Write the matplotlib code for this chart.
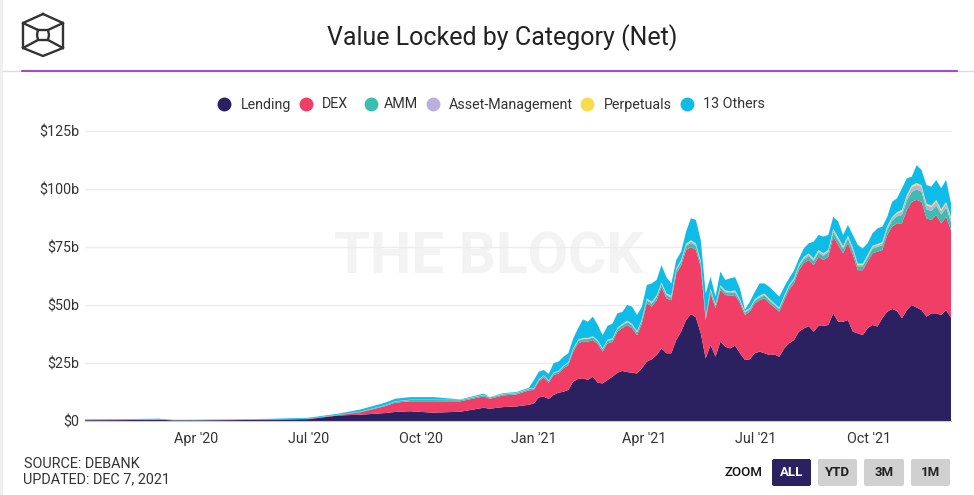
import numpy as np
import pandas as pd
import matplotlib
matplotlib.use("Agg")
import matplotlib.pyplot as plt
import matplotlib.dates as mdates
from matplotlib.patches import FancyBboxPatch, Rectangle

plt.rcParams['font.family'] = ['Roboto', 'DejaVu Sans']

# values, $ billions
dates_2020 = [
    '2020-01-01', '2020-02-01', '2020-03-01', '2020-03-13', '2020-04-01', '2020-05-01', '2020-06-01', '2020-07-01',
    '2020-07-26', '2020-08-12', '2020-09-01', '2020-09-10', '2020-09-22', '2020-10-11', '2020-11-02', '2020-11-21',
    '2020-11-26', '2020-12-07', '2020-12-18', '2020-12-28',
]
# 2021 was read every 4 days, Jan 1 to Dec 7
dates_2021 = pd.date_range('2021-01-01', periods=86, freq='4D')

# top edges of the lending, dex and whole stack, as read
lending_top = [
    .35, .4, .55, .3, .3, .4, .6, .8, 2.4, 2.7, 3.4, 3.9, 4.2, 3.6, 4, 5.7, 5.3, 6, 6.3, 7,
    7.6, 10.2, 10.5, 9.5, 11.2, 12.2, 12.6, 13.4, 17, 18.1,
    18.4, 17.7, 19.1, 16.5, 16.2, 17.7, 19.1, 20.8, 21.6, 21.1,
    20.8, 20.5, 22.7, 25.6, 26.6, 28.4, 31.3, 29.2, 29.2, 34.9,
    38.5, 43.5, 46.1, 44.7, 37.8, 27, 32.8, 27.7, 34.2, 32,
    31.3, 32.5, 29.2, 26.3, 26.6, 29.2, 29.9, 29.2, 28.4, 28.7,
    27.7, 31.3, 33.5, 34.9, 38.5, 39.9, 40.9, 38.5, 41, 41,
    41.4, 46.4, 42.8, 42.8, 43.5, 38.5, 37.8, 37, 40, 41.4,
    40.7, 44.3, 47.1, 48.3, 47.4, 44.3, 47.8, 50, 48.9, 47.8,
    45, 46.4, 46.4, 45.7, 47.8, 44.5,
]
dex_top = [
    .4, .45, .6, .33, .33, .45, .65, .9, 2.6, 3.7, 6.3, 7.9, 8.5, 8.5, 8.5, 10.6, 9.6, 11, 11.5, 13.2,
    13.4, 17, 18.8, 16.5, 19.8, 20.5, 22.7, 24.1, 29.9, 33.5,
    34.2, 34.2, 34.9, 33.2, 29.9, 33.5, 34, 38.5, 40, 41.4,
    40, 37, 42, 50.7, 49.3, 52, 57.6, 52.9, 52, 63.5,
    67, 73.7, 75, 73.7, 66.5, 43.5, 55, 48.6, 56.5, 54.3,
    53.9, 54.3, 50.7, 45.7, 47.1, 50.7, 52, 52.9, 50.7, 49,
    47.1, 52, 56.5, 59.3, 65, 68, 69.4, 67.2, 70.8, 69.4,
    70.8, 79.5, 75.9, 72.3, 76.6, 71.6, 65, 65, 68.7, 72.3,
    73, 73.7, 80.2, 83.8, 85.2, 85.2, 91, 94.5, 95.3, 94.5,
    87.4, 86.6, 88.8, 85.2, 88, 82.3,
]
total_top = [
    .7, .8, 1, .5, .55, .7, .95, 1.4, 3.2, 4.9, 7.8, 9.6, 10.3, 10.3, 9.3, 11.8, 10.3, 12, 12.5, 14.4,
    17.7, 21.3, 22, 20.3, 24.9, 25.6, 27.7, 29.2, 35.6, 40,
    43.8, 42.8, 45, 41.4, 37, 41, 42, 46.4, 47, 50,
    49.3, 45.7, 49.3, 58.6, 59.3, 60.8, 67.2, 62, 59.3, 69.4,
    73, 81.6, 87.4, 86.7, 78, 55, 62.2, 53.6, 64.4, 60.8,
    61.5, 62, 57, 48, 51.4, 55.7, 59.3, 59.3, 57.8, 55.7,
    53.6, 57.8, 61.5, 64.9, 70, 74.4, 76.6, 77.3, 80.2, 79.5,
    80.2, 88, 86, 80.2, 84.5, 80.2, 75.9, 74.4, 76.6, 80.9,
    83, 83.8, 88, 94.5, 96, 100.3, 104.6, 105.3, 110.3, 108.2,
    101.7, 101, 103.9, 100.3, 103.9, 93.8,
]
amm = [
    .04, .05, .06, .03, .03, .04, .05, .08, .15, .2, .35, .5, .55, .55, .5, .5, .5, .5, .5, .55,
    .6, .7, .7, .7, .8, .8, .8, .9, 1, 1,
    1.1, 1.1, 1.1, 1.1, 1, 1.1, 1.1, 1.1, 1.2, 1.2,
    1.2, 1.1, 1.2, 1.3, 1.3, 1.3, 1.4, 1.3, 1.2, 1.4,
    1.5, 1.7, 1.8, 1.8, 1.6, 1, 1.2, 1.1, 1.2, 1.2,
    1.2, 1.2, 1.1, 1, 1, 1.1, 1.2, 1.2, 1.2, 1.1,
    1.2, 1.3, 1.4, 1.5, 1.6, 1.7, 1.7, 1.8, 1.8, 1.8,
    1.9, 2, 2, 1.9, 2, 1.9, 1.7, 1.7, 1.8, 2,
    2, 2.1, 2.3, 2.6, 3, 3.6, 4, 4.3, 4.5, 4.3,
    3.9, 3.9, 4, 3.8, 4, 3.5,
]
asset_mgmt = [
    .01, .01, .01, .01, .01, .01, .01, .02, .03, .05, .08, .1, .12, .12, .12, .12, .12, .12, .15, .15,
    .15, .2, .2, .2, .2, .2, .2, .25, .3, .3,
    .3, .3, .3, .3, .25, .3, .3, .3, .4, .4,
    .4, .35, .4, .5, .5, .5, .5, .5, .5, .5,
    .6, .6, .7, .7, .6, .4, .5, .4, .5, .5,
    .5, .5, .4, .4, .4, .4, .5, .5, .5, .4,
    .4, .5, .5, .5, .6, .6, .7, .7, .7, .7,
    .7, .8, .8, .7, .8, .8, .7, .7, .7, .8,
    .8, .8, .9, 1, 1.2, 1.5, 1.7, 1.9, 2, 2,
    1.7, 1.7, 1.8, 1.6, 1.7, 1.5,
]
perps = [
    0, 0, 0, 0, 0, 0, 0, 0, 0, .01, .01, .02, .02, .02, .02, .03, .03, .03, .04, .05,
    .05, .07, .07, .07, .1, .1, .1, .12, .15, .2,
    .2, .2, .2, .2, .15, .2, .2, .2, .25, .25,
    .25, .25, .25, .3, .3, .3, .3, .3, .3, .3,
    .35, .4, .4, .4, .35, .25, .3, .25, .3, .3,
    .3, .3, .25, .25, .25, .25, .3, .3, .3, .25,
    .25, .3, .3, .3, .35, .4, .4, .4, .4, .4,
    .4, .5, .5, .45, .45, .45, .4, .4, .4, .45,
    .45, .5, .5, .5, .6, .7, .8, .8, .8, .8,
    .7, .7, .7, .7, .7, .7,
]

labels = ['Lending', 'DEX', 'AMM', 'Asset-Management', 'Perpetuals', '13 Others']
colors = ['#2b2160', '#f03e66', '#3dbdb0', '#b9b0e0', '#f7dc4e', '#0fbce8']
y_ticks = [0, 25, 50, 75, 100, 125]
y_tick_labels = ['$0', '$25b', '$50b', '$75b', '$100b', '$125b']
x_ticks = ['2020-04-01', '2020-07-01', '2020-10-01', '2021-01-01', '2021-04-01', '2021-07-01', '2021-10-01']
x_tick_labels = ["Apr '20", "Jul '20", "Oct '20", "Jan '21", "Apr '21", "Jul '21", "Oct '21"]

W, H = 974, 495
fig = plt.figure(figsize=(W / 100, H / 100), dpi=100, facecolor='white')

# backdrop layer in pixel coordinates: header, logo, watermark, footer
bg = fig.add_axes([0, 0, 1, 1], zorder=0)
bg.set_xlim(0, W)
bg.set_ylim(H, 0)
bg.axis('off')

bg.add_patch(Rectangle((0, 0), 3, H, color='#f0f0f0', lw=0))
bg.plot([3, 22], [70.5, 70.5], color='#dddddd', lw=1)
bg.plot([957, W], [70.5, 70.5], color='#dddddd', lw=1)
bg.plot([22, 957], [70.5, 70.5], color='#a21fc2', lw=1.2)

# logo
logo = '#333333'
bg.plot([43, 63, 63, 43, 23, 23, 43], [14, 23, 48, 56, 48, 23, 14], color=logo, lw=1.7)
bg.plot([38, 48, 49, 48, 38, 37, 38], [30, 30, 35, 40, 40, 35, 30], color=logo, lw=1.7)
for x0, y0, x1, y1 in [(23, 23, 38, 30), (63, 23, 48, 30), (23, 48, 38, 40), (63, 48, 48, 40)]:
    bg.plot([x0, x1], [y0, y1], color=logo, lw=1.7)

bg.text(502.5, 38, 'Value Locked by Category (Net)', fontsize=18, color='#222222', ha='center', va='center')
bg.text(489, 258, 'THE BLOCK', fontsize=42, fontweight='bold', color='#f3f3f3', ha='center', va='center')

# legend
marker_x = [224, 306, 371, 433, 587, 687]
text_x = [241, 322, 384, 449, 604, 703]
for mx, tx, name, c in zip(marker_x, text_x, labels, colors):
    bg.plot([mx], [104], 'o', ms=10, color=c, mec='none')
    bg.text(tx, 104.5, name, fontsize=10.3, color='#333333', va='center', ha='left')

# footer
bg.text(24, 464, 'SOURCE: DEBANK', fontsize=10.4, color='#333333', va='center')
bg.text(23, 479, 'UPDATED: DEC 7, 2021', fontsize=10.4, color='#333333', va='center')
bg.text(743, 473, 'ZOOM', fontsize=9.5, fontweight='medium', color='#111111', ha='center', va='center')
for x0, x1, name, active in [(772, 811, 'ALL', True), (818, 857, 'YTD', False),
                             (864, 904, '3M', False), (911, 950, '1M', False)]:
    bg.add_patch(FancyBboxPatch((x0 + 2, 461), x1 - x0 - 4, 23, boxstyle='round,pad=2',
                                fc='#2b2160' if active else '#d0d0d0', ec='none'))
    bg.text((x0 + x1) / 2, 473, name, fontsize=9.5, fontweight='bold',
            color='white' if active else '#222222', ha='center', va='center')

# chart
ax = fig.add_axes([85 / W, 1 - 421 / H, (951 - 85) / W, (421 - 131) / H], zorder=1)
ax.patch.set_alpha(0)

x = pd.to_datetime(dates_2020).append(dates_2021)
lending = np.array(lending_top)
dex = np.array(dex_top) - lending
others = np.array(total_top) - np.array(dex_top) - np.array(amm) - np.array(asset_mgmt) - np.array(perps)
ax.stackplot(x, lending, dex, amm, asset_mgmt, perps, others, colors=colors, linewidth=0, zorder=2)

ax.set_xlim(pd.Timestamp('2020-01-01'), pd.Timestamp('2021-12-07'))
ax.set_ylim(0, 125)
ax.set_yticks(y_ticks)
ax.set_yticklabels(y_tick_labels, fontsize=10.3, color='#333333')
ax.set_xticks(mdates.date2num(pd.to_datetime(x_ticks)))
ax.set_xticklabels(x_tick_labels, fontsize=10.3, color='#333333')
ax.tick_params(length=0)
ax.tick_params(axis='y', pad=4)
ax.tick_params(axis='x', pad=8)
ax.grid(axis='y', color='#ececec', lw=1, zorder=1)
ax.set_axisbelow(True)
for side in ['top', 'right', 'left']:
    ax.spines[side].set_visible(False)
ax.spines['bottom'].set_color('#c8c8d0')

fig.savefig('out.png', dpi=100)
